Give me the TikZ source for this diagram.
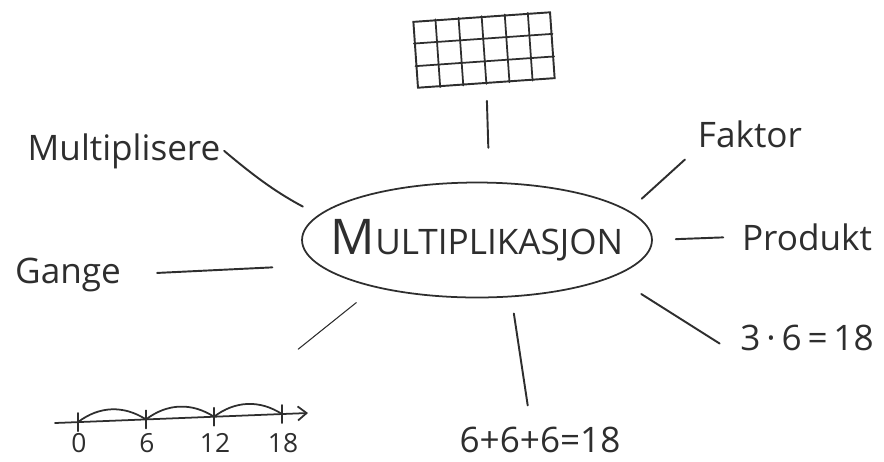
\documentclass[tikz,border=0pt]{standalone}
\usepackage{fontspec}
\setmainfont{Open Sans}
\usetikzlibrary{arrows.meta,calc,shapes.geometric}
\definecolor{pencil}{HTML}{2E2E2E}

\begin{document}
\begin{tikzpicture}[x=0.02cm,y=-0.02cm,
  word/.style={anchor=base,inner sep=2pt,text=pencil,font=\fontsize{20}{24}\selectfont},
  num/.style={anchor=base,inner sep=1pt,text=pencil,font=\fontsize{15}{17}\selectfont},
  hub/.style={ellipse,draw=pencil,line width=1pt,minimum width=7cm,minimum height=2.3cm,inner xsep=-0.5cm,inner ysep=0pt,text=pencil},
  spoke/.style={draw=pencil,line width=1.1pt,line cap=round},
  pen/.style={draw=pencil,line width=1pt,line cap=round,line join=round}]
\useasboundingbox (0,0) rectangle (884,461);
% centre word
\node[hub] (multi) at (477,240) {{\fontsize{28}{30}\selectfont M}{\fontsize{20}{22}\selectfont ULTIPLIKASJON}};
% words round it
\node[word] (multiplisere) at (124,160) {Multiplisere};
\node[word] (gange) at (68,283) {Gange};
\node[word] (faktor) at (750,147) {Faktor};
\node[word] (produkt) at (807,250) {Produkt};
\node[word] (eq) at (807,350) {3\,·\,6\,=\,18};
\node[word] (sum) at (540,452) {6+6+6=18};
% rectangle array
\node[draw=pencil,line width=1.1pt,minimum width=2.74cm,minimum height=1.32cm,inner sep=0pt,rotate=4] (array) at (484,50) {};
\foreach \i in {1,...,5}
  \draw[pen] ($(array.north west)!\i/6!(array.north east)$) -- ($(array.south west)!\i/6!(array.south east)$);
\foreach \j in {1,2}
  \draw[pen] ($(array.north west)!\j/3!(array.south west)$) -- ($(array.north east)!\j/3!(array.south east)$);
% number line
\coordinate (start) at (55,423);
\coordinate (tip) at (308,413);
\draw[pen,-{Straight Barb[length=5pt,width=8pt]}] (start) -- (tip);
\foreach \x/\lab in {78/0,146/6,214/12,282/18} {
  \coordinate (t\lab) at (\x,{423-10*(\x-55)/253});
  \draw[pen] (t\lab) ++(0,-9) -- ++(0,18);
  \node[num] (l\lab) at (\x+1,452) {\lab};
}
\draw[pen] (t0) to[bend left=35] (t6) to[bend left=35] (t12) to[bend left=35] (t18);
% spokes
\draw[spoke,shorten <=0.34cm,shorten >=0.68cm] (array.south) -- (multi.78);
\draw[spoke,shorten >=0.35cm] (multiplisere.east) to[bend right=6] (multi.171.6);
\draw[spoke,shorten <=0.65cm,shorten >=0.92cm] (gange.east) -- (multi.189.5);
\draw[spoke,shorten <=0.25cm,shorten >=0.35cm] (faktor.south west) -- (multi.11);
\draw[spoke,shorten <=0.3cm,shorten >=0.46cm] (produkt.west) -- (multi.east);
\draw[spoke,shorten <=0.4cm,shorten >=0.65cm] (eq.south west) -- (multi.345.4);
\draw[spoke,shorten <=0.35cm,shorten >=0.33cm] (sum.120) -- (multi.301);
\draw[spoke,line width=0.6pt,shorten <=0.48cm,shorten >=2.16cm] (multi.205) -- (t12);
\end{tikzpicture}
\end{document}
